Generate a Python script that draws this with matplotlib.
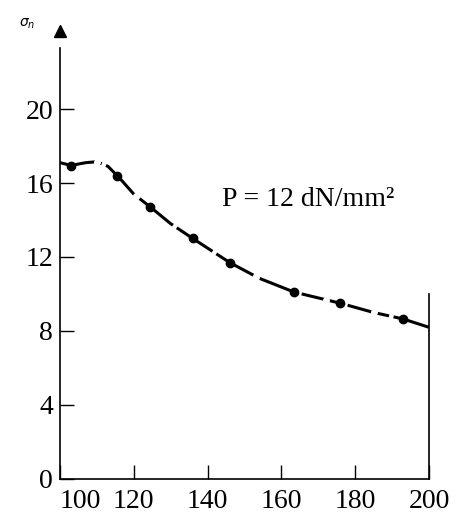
import numpy as np
import matplotlib.pyplot as plt

# curve
curve_x = [100, 103, 107, 110, 113, 116, 120, 124.5, 130, 136, 146, 154, 163.5, 176, 185, 193, 200]
curve_y = [17.1, 16.95, 17.1, 17.15, 16.9, 16.3, 15.4, 14.7, 13.8, 13.0, 11.7, 10.85, 10.1, 9.5, 9.0, 8.65, 8.2]

# measured points
filled_x = [103, 115.5, 124.5, 136, 146, 163.5, 176, 193]
filled_y = [16.9, 16.4, 14.7, 13.0, 11.7, 10.1, 9.5, 8.65]
open_x = [110, 120.5, 153, 172, 185]
open_y = [17.15, 15.3, 10.9, 9.7, 9.0]

xticks = [100, 120, 140, 160, 180, 200]
yticks = [0, 4, 8, 12, 16, 20]

plt.rcParams['font.family'] = ['Liberation Serif', 'DejaVu Serif']

fig = plt.figure(figsize=(4.59, 5.26), dpi=100)
ax = fig.add_axes([0.1307, 0.0894, 0.8039, 0.8792])

ax.plot(curve_x, curve_y, color='black', lw=2.2, dashes=(14, 1.5), zorder=2)
ax.plot(filled_x, filled_y, 'o', color='black', ms=6, zorder=3)
ax.plot(open_x, open_y, 'o', mfc='white', mec='white', ms=4, zorder=4)

ax.set_xlim(100, 200)
ax.set_ylim(0, 25)
ax.set_xticks(xticks)
ax.set_yticks(yticks)
ax.tick_params(direction='in', length=10, width=1, labelsize=20, color='black')
ax.tick_params(axis='y', pad=5)
ax.tick_params(axis='x', pad=7)
ax.get_xticklabels()[0].set_ha('left')
ax.get_xticklabels()[0].set_x(99)

ax.spines['top'].set_visible(False)
ax.spines['left'].set_bounds(0, 23.3)
ax.spines['right'].set_bounds(0, 10.0)
for s in ['left', 'bottom', 'right']:
    ax.spines[s].set_linewidth(1.2)

# arrow head on the y axis
ax.plot([100], [24.2], marker='^', color='black', ms=9, clip_on=False)
ax.text(-0.09, 0.985, r'$\sigma_n$', transform=ax.transAxes, fontsize=10,
        ha='center', va='center')

ax.text(144, 15.1, 'P = 12 dN/mm²', fontsize=20, va='center', ha='left')

fig.savefig('out.png', dpi=100)
